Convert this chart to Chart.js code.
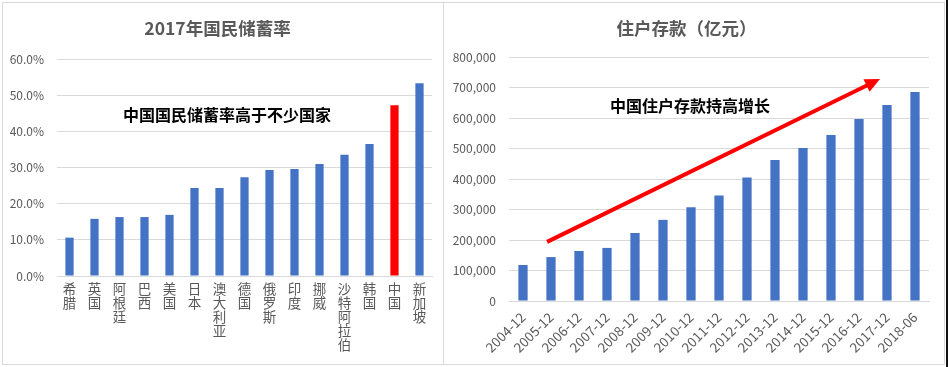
<!DOCTYPE html>
<html>
<head>
<meta charset="utf-8">
<script src="https://cdn.jsdelivr.net/npm/chart.js@4"></script>
<style>
  html, body { margin: 0; padding: 0; background: #fff; }
  #page { position: relative; width: 948px; height: 367px; overflow: hidden; background: #fff; }
  .box { position: absolute; border: 1px solid #d9d9d9; box-sizing: border-box; }
  .wrap { position: absolute; }
  #edge { position: absolute; left: 946px; top: 0; width: 2px; height: 367px; background: #111; }
</style>
</head>
<body>
<div id="page">
  <div class="box" style="left:2px;top:2px;width:442px;height:363px;"></div>
  <div class="box" style="left:443px;top:2px;width:502px;height:363px;"></div>
  <div class="wrap" style="left:3px;top:3px;width:440px;height:360px;"><canvas id="c1" width="440" height="360"></canvas></div>
  <div class="wrap" style="left:444px;top:3px;width:500px;height:360px;"><canvas id="c2" width="500" height="360"></canvas></div>
  <div id="edge"></div>
</div>
<script>
// ---- Left chart data: 2017年国民储蓄率 ----
const countries = ['希腊','英国','阿根廷','巴西','美国','日本','澳大利亚','德国','俄罗斯','印度','挪威','沙特阿拉伯','韩国','中国','新加坡'];
const savingRates = [10.6, 15.8, 16.3, 16.3, 16.9, 24.3, 24.3, 27.3, 29.3, 29.6, 31.0, 33.5, 36.5, 47.2, 53.3];
const leftTicksMax = 60;
const leftTitle = '2017年国民储蓄率';
const leftNote = '中国国民储蓄率高于不少国家';

// ---- Right chart data: 住户存款（亿元） ----
const periods = ['2004-12','2005-12','2006-12','2007-12','2008-12','2009-12','2010-12','2011-12','2012-12','2013-12','2014-12','2015-12','2016-12','2017-12','2018-06'];
const deposits = [118000, 144000, 164000, 174000, 223000, 266000, 307000, 346000, 405000, 462000, 502000, 544000, 597000, 643000, 685000];
const rightTicksMax = 800000;
const rightTitle = '住户存款（亿元）';
const rightNote = '中国住户存款持高增长';
// arrow annotation in data space: [categoryIndex, value]
const arrowFrom = [0.86, 194000];
const arrowTo = [12.75, 728000];

const FONT = '"Noto Sans CJK SC", "Noto Sans", sans-serif';
const GRID = '#d9d9d9';
const TXT = '#595959';
const BLUE = '#4472C4';
const RED = '#FF0000';

const notePlugin = {
  id: 'note',
  afterDatasetsDraw(chart, args, opts) {
    const ctx = chart.ctx;
    const xs = chart.scales.x, ys = chart.scales.y;
    if (opts.arrow) {
      const x1 = xs.getPixelForValue(opts.arrow.from[0]), y1 = ys.getPixelForValue(opts.arrow.from[1]);
      const x2 = xs.getPixelForValue(opts.arrow.to[0]), y2 = ys.getPixelForValue(opts.arrow.to[1]);
      const ang = Math.atan2(y2 - y1, x2 - x1);
      const hl = 15, hw = 7;
      const bx = x2 - hl * Math.cos(ang), by = y2 - hl * Math.sin(ang);
      ctx.save();
      ctx.strokeStyle = RED; ctx.fillStyle = RED; ctx.lineWidth = 4; ctx.lineCap = 'butt';
      ctx.beginPath(); ctx.moveTo(x1, y1); ctx.lineTo(bx + 2 * Math.cos(ang), by + 2 * Math.sin(ang)); ctx.stroke();
      ctx.beginPath();
      ctx.moveTo(x2, y2);
      ctx.lineTo(bx + hw * Math.sin(ang), by - hw * Math.cos(ang));
      ctx.lineTo(bx - hw * Math.sin(ang), by + hw * Math.cos(ang));
      ctx.closePath(); ctx.fill();
      ctx.restore();
    }
    if (opts.text) {
      ctx.save();
      ctx.font = 'bold 16px ' + FONT;
      ctx.fillStyle = '#000';
      ctx.textAlign = 'center';
      ctx.textBaseline = 'middle';
      ctx.fillText(opts.text, xs.getPixelForValue(opts.at[0]), ys.getPixelForValue(opts.at[1]));
      ctx.restore();
    }
  }
};

function makeChart(id, cfg) {
  return new Chart(document.getElementById(id), {
    type: 'bar',
    data: { labels: cfg.labels, datasets: [{ data: cfg.values, backgroundColor: cfg.colors, barPercentage: 0.33, categoryPercentage: 1 }] },
    options: {
      responsive: false,
      animation: false,
      layout: { padding: { left: 0, right: cfg.padRight, top: 0, bottom: 0 } },
      plugins: {
        legend: { display: false },
        tooltip: { enabled: false },
        title: { display: true, text: cfg.title, color: TXT, font: { family: FONT, size: 17.5, weight: 'bold', lineHeight: 1.2 }, padding: { top: 14.5, bottom: cfg.titleBottom } },
        note: cfg.note
      },
      scales: {
        x: {
          grid: { display: false, drawTicks: false },
          border: { display: true, color: GRID },
          ticks: { color: TXT, font: { family: FONT, size: cfg.xFont, lineHeight: cfg.xLineHeight }, autoSkip: false, minRotation: cfg.rot, maxRotation: cfg.rot, padding: cfg.xPad },
          afterFit(s) { s.height = cfg.xHeight; }
        },
        y: {
          min: 0, max: cfg.max,
          grid: { color: GRID, drawTicks: false },
          border: { display: false },
          ticks: { stepSize: cfg.step, color: TXT, font: { family: FONT, size: 12 }, padding: 13, callback: cfg.fmt },
          afterFit(s) { s.width = cfg.yWidth; }
        }
      }
    },
    plugins: [notePlugin]
  });
}

makeChart('c1', {
  labels: countries.map(c => c.split('')),
  values: savingRates,
  colors: countries.map(c => c === '中国' ? RED : BLUE),
  title: leftTitle, titleBottom: 20.5,
  max: leftTicksMax, step: 10,
  fmt: v => v.toFixed(1) + '%',
  yWidth: 54, xHeight: 87, padRight: 11,
  xFont: 13.5, xLineHeight: 14 / 13.5, rot: 0, xPad: 6,
  note: { text: leftNote, at: [6.3, 44.6] }
});

makeChart('c2', {
  labels: periods,
  values: deposits,
  colors: BLUE,
  title: rightTitle, titleBottom: 18.5,
  max: rightTicksMax, step: 100000,
  fmt: v => v.toLocaleString('en-US'),
  yWidth: 65, xHeight: 62, padRight: 15,
  xFont: 13.5, xLineHeight: 1.2, rot: 45, xPad: 8,
  note: { text: rightNote, at: [5.96, 639000], arrow: { from: arrowFrom, to: arrowTo } }
});
</script>
</body>
</html>
